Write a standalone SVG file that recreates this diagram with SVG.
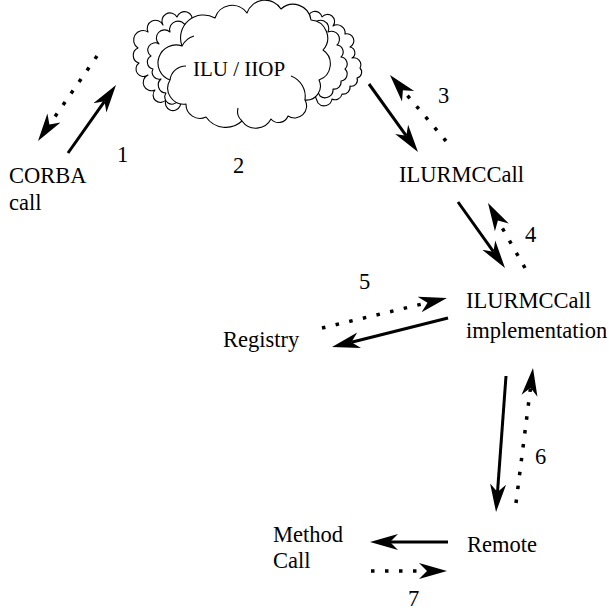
<svg xmlns="http://www.w3.org/2000/svg" width="609" height="611" viewBox="0 0 609 611">
  <style>
    text { font-family: "Liberation Serif", "Times New Roman", serif; font-size: 22.5px; fill: #000; }
    .cloud { fill: #fff; stroke: #000; stroke-width: 1.1; stroke-linejoin: round; }
    .cloudline { fill: none; stroke: #000; stroke-width: 1.1; }
    .solid { fill: none; stroke: #000; stroke-width: 3; marker-end: url(#head); }
    .dotted { fill: none; stroke: #000; stroke-width: 3.5; stroke-dasharray: 3.5 10.5; marker-end: url(#head); }
  </style>
  <defs>
    <marker id="head" markerUnits="userSpaceOnUse" markerWidth="30" markerHeight="20" viewBox="0 -10 30 20" refX="8" refY="0" orient="auto">
      <path d="M0,-8 L28,0 L0,8 L8,0 Z" fill="#000"/>
    </marker>
  </defs>

  <rect width="609" height="611" fill="#fff"/>

  <!-- cloud -->
  <g id="cloud">
    <!-- outer scallops, left -->
    <path class="cloud" d="M192,22 A7,7 0 0 0 177,17 A8,8 0 0 0 163,25 A8,8 0 0 0 148,32 A9,9 0 0 0 138,48 A8,8 0 0 0 139,63 A7,7 0 0 0 148,75 A8,8 0 0 0 155,90 A7,7 0 0 0 166,100 A7,7 0 0 0 180,106 L196,60 Z"/>
    <!-- inner scallops, left -->
    <path class="cloud" d="M186,27 A8,8 0 0 0 170,32 A8,8 0 0 0 159,44 A7,7 0 0 0 151,56 A7,7 0 0 0 153,69 A7,7 0 0 0 161,79 A8,8 0 0 0 166,93 A7,7 0 0 0 178,101 L196,60 Z"/>
    <!-- outer scallops, right -->
    <path class="cloud" d="M308,20 A7,7 0 0 1 322,17 A7,7 0 0 1 333,26 A8,8 0 0 1 345,34 A7,7 0 0 1 350,47 A6,6 0 0 1 352,58 A7,7 0 0 1 360,68 A6,6 0 0 1 357,78 A6,6 0 0 1 350,86 A7,7 0 0 1 342,94 A7,7 0 0 1 332,99 A8,8 0 0 1 318,103 L300,60 Z"/>
    <!-- inner scallops, right -->
    <path class="cloud" d="M313,25 A8,8 0 0 1 328,32 A8,8 0 0 1 337,45 A7,7 0 0 1 341,57 A7,7 0 0 1 345,69 A7,7 0 0 1 341,81 A7,7 0 0 1 333,89 A8,8 0 0 1 320,96 L300,60 Z"/>
    <!-- main body -->
    <path class="cloud" d="M186,104 A16,16 0 0 1 170,80 A18,18 0 0 1 182,46 A23,23 0 0 1 215,18 A18,18 0 0 1 247,13 A19,19 0 0 1 281,9 A18,18 0 0 1 311,20 A18,18 0 0 1 323,50 A17,17 0 0 1 319,80 A14,14 0 0 1 305,100 A12,12 0 0 1 288,116 A10,10 0 0 1 271,119 A17,17 0 0 1 242,121 A24,24 0 0 1 206,117 A14,14 0 0 1 186,104 Z"/>
    <path class="cloudline" d="M170,80 A16,16 0 0 1 186,66"/>
    <path class="cloudline" d="M305,100 A22,22 0 0 0 291,76"/>
    <path class="cloudline" d="M242,121 A13,13 0 0 1 238,108"/>
    <path class="cloudline" d="M182,46 A20,20 0 0 1 194,36"/>
    <text x="193" y="76" style="font-size:21px">ILU / IIOP</text>
  </g>

  <!-- nodes -->
  <g id="corba">
    <text x="9" y="183">CORBA</text>
    <text x="9" y="210">call</text>
  </g>
  <g id="ilurmccall">
    <text x="399" y="182">ILURMCCall</text>
  </g>
  <g id="impl">
    <text x="466" y="308">ILURMCCall</text>
    <text x="466" y="338">implementation</text>
  </g>
  <g id="registry">
    <text x="223" y="347">Registry</text>
  </g>
  <g id="remote">
    <text x="467" y="552">Remote</text>
  </g>
  <g id="method">
    <text x="273" y="542">Method</text>
    <text x="273" y="568">Call</text>
  </g>

  <!-- connectors -->
  <g id="connectors">
    <path class="solid" d="M68,153 L104.5,101.3"/>
    <path class="dotted" d="M97,56 L49.4,124.6"/>
    <path class="solid" d="M369,84 L406.3,135.8"/>
    <path class="dotted" d="M446,141 L402.9,90.2"/>
    <path class="solid" d="M458,202 L493.4,251.7"/>
    <path class="dotted" d="M525,268 L497.9,220.4"/>
    <path class="dotted" d="M322,328 L427.5,302.7"/>
    <path class="solid" d="M448,318 L351.4,342.2"/>
    <path class="solid" d="M506,376 L497.5,492.1"/>
    <path class="dotted" d="M516,503 L530.5,387.8"/>
    <path class="solid" d="M448,542 L390,542"/>
    <path class="dotted" d="M371,571 L427,571"/>
  </g>

  <!-- step numbers -->
  <g id="labels">
    <text x="117" y="162">1</text>
    <text x="233" y="173">2</text>
    <text x="438" y="103">3</text>
    <text x="525" y="242">4</text>
    <text x="359" y="289">5</text>
    <text x="535" y="464">6</text>
    <text x="408" y="606">7</text>
  </g>
</svg>
